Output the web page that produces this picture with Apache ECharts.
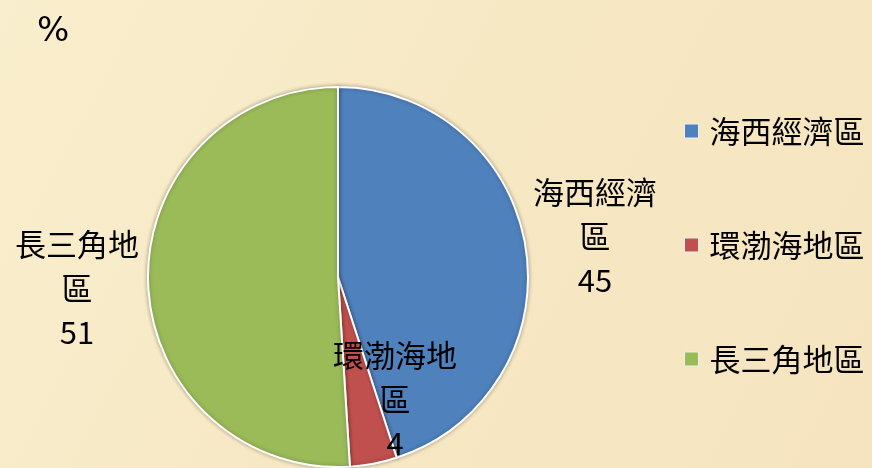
<!DOCTYPE html>
<html>
<head>
<meta charset="utf-8">
<script src="https://cdn.jsdelivr.net/npm/echarts@6/dist/echarts.min.js"></script>
<style>
  html, body { margin: 0; padding: 0; background: #f6e7c3; }
  #chart { width: 872px; height: 468px; }
</style>
</head>
<body>
<div id="chart"></div>
<script>
// datos del gráfico
const regiones = ["海西經濟區", "環渤海地區", "長三角地區"];
const valores = [45, 4, 51];
const colores = ["#4f81bd", "#c0504d", "#9bbb59"];

// posición de las etiquetas (centro del bloque de texto), como en el original
const posEtiquetas = [[595, 236], [395, 399], [77, 288]];

const chart = echarts.init(document.getElementById("chart"));
const fuenteCJK = "'Noto Sans CJK TC', 'Noto Sans CJK SC', sans-serif";

chart.setOption({
  backgroundColor: {
    type: "linear", x: 0, y: 0, x2: 1, y2: 1,
    colorStops: [
      { offset: 0, color: "#f9eecd" },
      { offset: 0.5, color: "#f7e8c4" },
      { offset: 1, color: "#f5e4bf" }
    ]
  },
  animation: false,
  title: {
    text: "%",
    left: 32,
    top: 10,
    textStyle: { fontFamily: "'DejaVu Sans', sans-serif", fontSize: 34, fontWeight: "normal", color: "#000" }
  },
  legend: {
    orient: "vertical",
    left: 679,
    top: 110,
    itemWidth: 14,
    itemHeight: 14,
    itemGap: 82,
    icon: "rect",
    data: regiones,
    itemStyle: { borderColor: "#eee", borderWidth: 1 },
    textStyle: { fontFamily: fuenteCJK, fontSize: 31, lineHeight: 32, color: "#000", padding: [0, 0, 0, 6] }
  },
  series: [{
    type: "pie",
    center: [338, 277],
    radius: 190,
    startAngle: 90,
    clockwise: true,
    data: regiones.map((r, i) => ({ name: r, value: valores[i], itemStyle: { color: colores[i] } })),
    itemStyle: { borderColor: "#fff", borderWidth: 2, shadowBlur: 4, shadowColor: "rgba(0,0,0,0.3)" },
    label: {
      show: true,
      position: "inside",
      fontFamily: fuenteCJK,
      fontSize: 31,
      lineHeight: 44,
      color: "#000",
      align: "center",
      formatter: p => `${p.name.slice(0, 4)}\n${p.name.slice(4)}\n${p.value}`
    },
    labelLine: { show: false },
    labelLayout: p => ({
      x: posEtiquetas[p.dataIndex][0],
      y: posEtiquetas[p.dataIndex][1],
      align: "center",
      verticalAlign: "middle"
    }),
    emphasis: { disabled: true }
  }]
});
</script>
</body>
</html>
